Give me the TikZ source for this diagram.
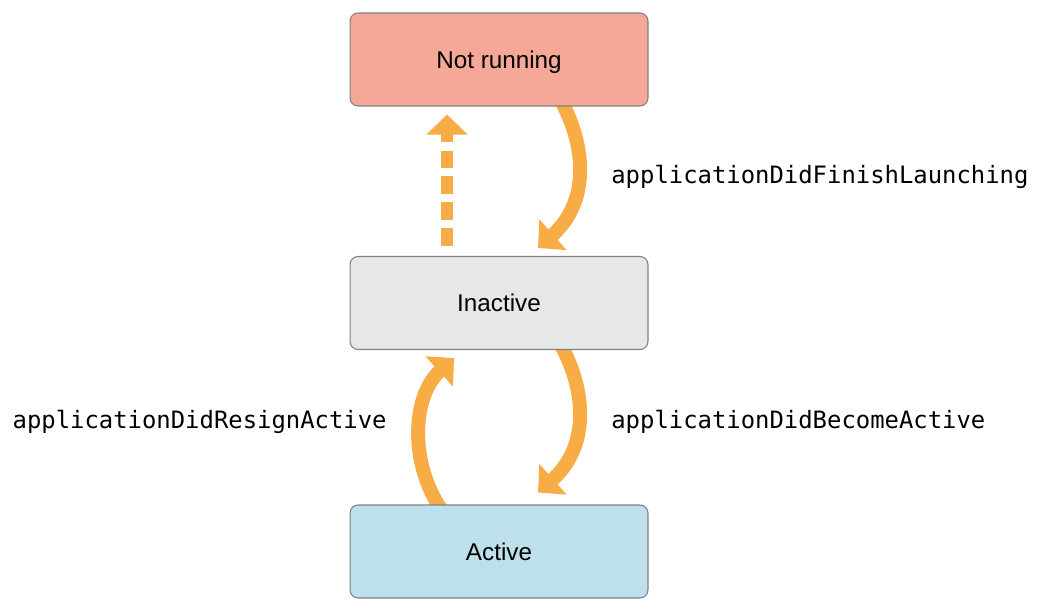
\documentclass[tikz,border=0pt]{standalone}
\usepackage{fontspec}
\setmainfont{Liberation Sans}
\setmonofont{DejaVu Sans Mono}
\usetikzlibrary{arrows.meta, backgrounds, calc}

\definecolor{flowor}{RGB}{248,172,69}
\definecolor{boxline}{RGB}{128,128,128}
\definecolor{nrfill}{RGB}{245,168,151}
\definecolor{inafill}{RGB}{230,232,231}
\definecolor{actfill}{RGB}{189,224,236}

\tikzset{
  statebox/.style={draw=boxline, line width=0.6pt, rounded corners=0.16cm,
    minimum width=5.96cm, minimum height=1.86cm, inner sep=0pt,
    text height=9.9pt, text depth=0pt,
    font=\fontsize{13.8}{16}\selectfont},
  eventlabel/.style={inner sep=0pt, font=\ttfamily\fontsize{13.6}{16}\selectfont},
  flow/.style={draw=flowor, line width=0.28cm, -{Triangle[width=0.8cm,length=0.4cm]}},
  exitflow/.style={flow, line width=0.24cm, dash pattern=on 0.35cm off 0.17cm},
}

\begin{document}
\begin{tikzpicture}[x=0.02cm, y=-0.02cm]
\useasboundingbox (0,0) rectangle (1041,612);
% states
\node[statebox, fill=nrfill] (notrunning) at (499,59.5) {Not running};
\node[statebox, fill=inafill] (inactive) at (499,303) {Inactive};
\node[statebox, fill=actfill] (active) at (499,551.5) {Active};
% events
\node[eventlabel, anchor=west] (finish) at (611,177) {applicationDidFinishLaunching};
\node[eventlabel, anchor=west] (become) at (611,422) {applicationDidBecomeActive};
\node[eventlabel, anchor=east] (resign) at (387,422) {applicationDidResignActive};
% transitions, behind the boxes
\begin{scope}[on background layer]
\draw[flow] ($(notrunning.south)+(59,-11)$) .. controls +(27,45) and +(54,-48) .. ($(inactive.north)+(39,-8)$);
\draw[flow] ($(inactive.south)+(59,-10)$) .. controls +(27,45) and +(54,-48) .. ($(active.north)+(39,-12)$);
\draw[flow] ($(active.north)+(-54,10)$) .. controls +(-35,-45) and +(-44,40) .. ($(inactive.south)+(-45,8)$);
\draw[exitflow] ($(inactive.north)+(-52,-10)$) -- ($(notrunning.south)+(-52,8)$);
\end{scope}
\end{tikzpicture}
\end{document}
